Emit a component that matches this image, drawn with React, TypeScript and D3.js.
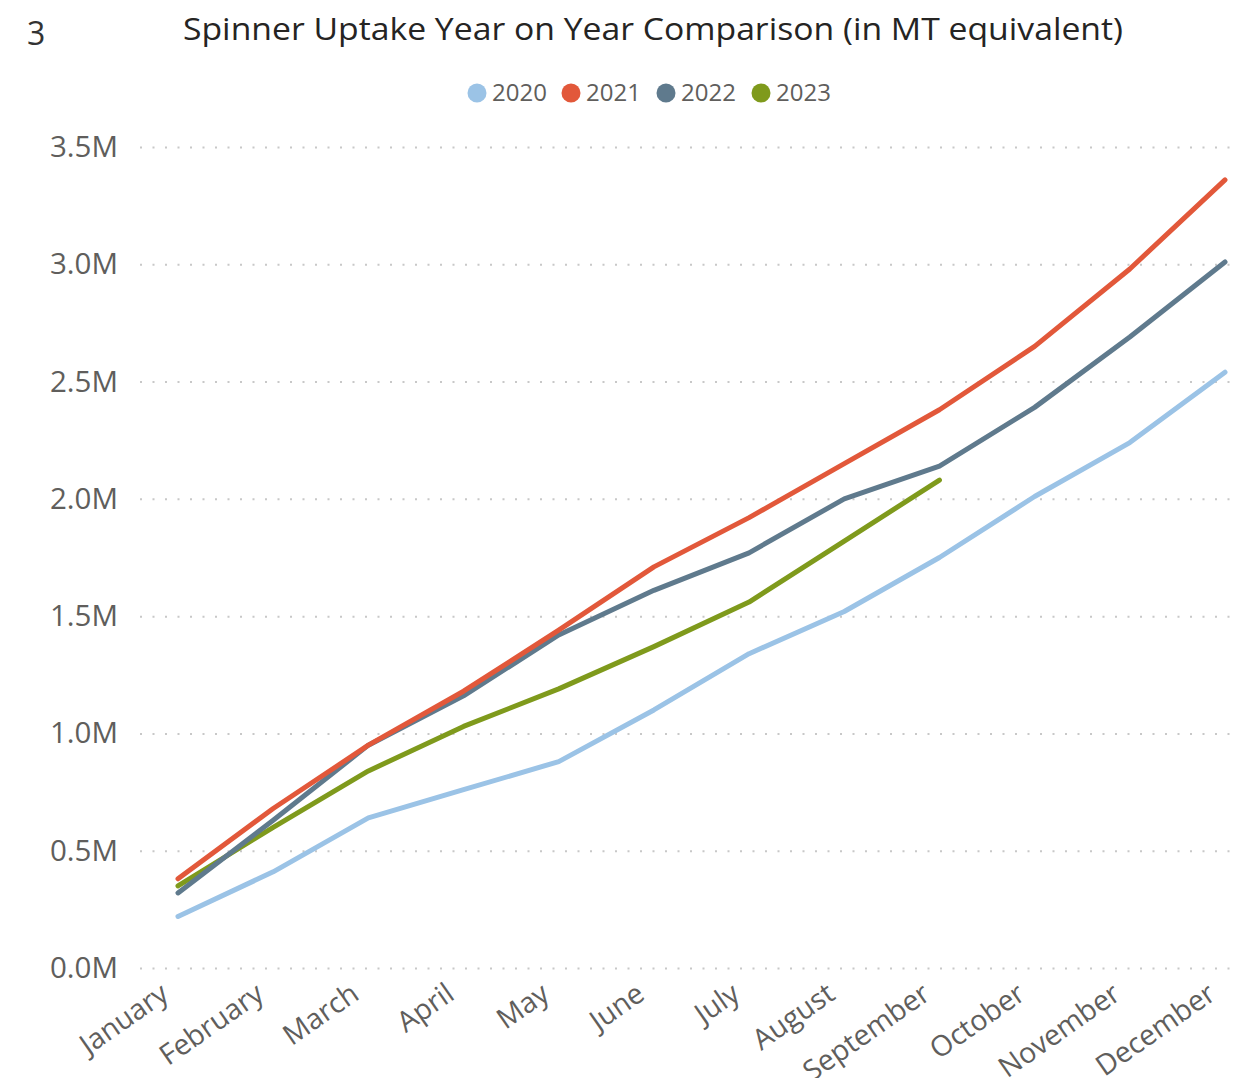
import React, { useEffect, useRef } from "react";
import { axisBottom, axisLeft, line, scaleLinear, scalePoint, select } from "d3";

const months = [
  "January", "February", "March", "April", "May", "June",
  "July", "August", "September", "October", "November", "December",
];

const years = ["2020", "2021", "2022", "2023"];

// values in millions
const y2020 = [0.22, 0.41, 0.64, 0.76, 0.88, 1.1, 1.34, 1.52, 1.75, 2.01, 2.24, 2.54];
const y2021 = [0.38, 0.68, 0.95, 1.18, 1.44, 1.71, 1.92, 2.15, 2.38, 2.65, 2.98, 3.36];
const y2022 = [0.32, 0.63, 0.95, 1.16, 1.42, 1.61, 1.77, 2.0, 2.14, 2.39, 2.69, 3.01];
const y2023 = [0.35, 0.6, 0.84, 1.03, 1.19, 1.37, 1.56, 1.82, 2.08];

const yTicks = [0, 0.5, 1, 1.5, 2, 2.5, 3, 3.5];

const colors = ["#9bc3e6", "#e2583a", "#5f7a8d", "#7f9a1c"];

const width = 1234;
const height = 1078;
const font = "'Open Sans', 'Noto Sans', sans-serif";

export default function App() {
  const svgRef = useRef<SVGSVGElement | null>(null);

  useEffect(() => {
    const svg = select(svgRef.current);
    svg.selectAll("*").remove();

    const x = scalePoint<string>().domain(months).range([178, 1225]);
    const y = scaleLinear().domain([0, 3.5]).range([968, 147]);

    // "3" marker + title
    svg.append("text")
      .attr("x", 27).attr("y", 45)
      .attr("font-family", font).attr("font-size", 32)
      .attr("fill", "#333")
      .text("3");

    svg.append("text")
      .attr("x", 183).attr("y", 40)
      .attr("font-family", font).attr("font-size", 31)
      .attr("fill", "#252423")
      .attr("textLength", 940)
      .attr("lengthAdjust", "spacingAndGlyphs")
      .text("Spinner Uptake Year on Year Comparison (in MT equivalent)");

    // legend
    const legendX = [477, 571, 666, 761];
    const lg = svg.append("g");
    years.forEach((yr, i) => {
      lg.append("circle")
        .attr("cx", legendX[i]).attr("cy", 93).attr("r", 9.5)
        .attr("fill", colors[i]);
      lg.append("text")
        .attr("x", legendX[i] + 15).attr("y", 101)
        .attr("font-family", font).attr("font-size", 24)
        .attr("fill", "#605e5c")
        .text(yr);
    });

    // y axis with dotted gridlines
    const yAxis = axisLeft(y)
      .tickValues(yTicks)
      .tickSize(-(1232 - 140))
      .tickPadding(22)
      .tickFormat((d) => `${(+d).toFixed(1)}M`);

    const gy = svg.append("g").attr("transform", "translate(140,0)").call(yAxis);
    gy.select(".domain").remove();
    gy.selectAll(".tick line")
      .attr("stroke", "#c8c8c8")
      .attr("stroke-width", 2)
      .attr("stroke-dasharray", "2,10.5");
    gy.selectAll(".tick text")
      .attr("font-family", font).attr("font-size", 29.5)
      .attr("fill", "#605e5c");

    // x axis, rotated month labels
    const xAxis = axisBottom(x).tickSize(0).tickPadding(0);
    const gx = svg.append("g").attr("transform", "translate(0,968)").call(xAxis);
    gx.select(".domain").remove();
    gx.selectAll(".tick text")
      .attr("font-family", font).attr("font-size", 28.5)
      .attr("fill", "#605e5c")
      .attr("text-anchor", "end")
      .attr("dy", 0)
      .attr("transform", "translate(-8,30) rotate(-35)");

    const series = [y2020, y2021, y2022, y2023];
    const lineGen = line<number>()
      .x((_, i) => x(months[i]) as number)
      .y((d) => y(d));

    // draw 2020, 2023, 2022, 2021 order so red sits on top
    [0, 3, 2, 1].forEach((i) => {
      svg.append("path")
        .datum(series[i])
        .attr("fill", "none")
        .attr("stroke", colors[i])
        .attr("stroke-width", 5)
        .attr("stroke-linecap", "round")
        .attr("stroke-linejoin", "round")
        .attr("d", lineGen);
    });
  }, []);

  return (
    <svg
      ref={svgRef}
      width={width}
      height={height}
      style={{ display: "block", position: "absolute", left: 0, top: 0, background: "#fff" }}
    ></svg>
  );
}
